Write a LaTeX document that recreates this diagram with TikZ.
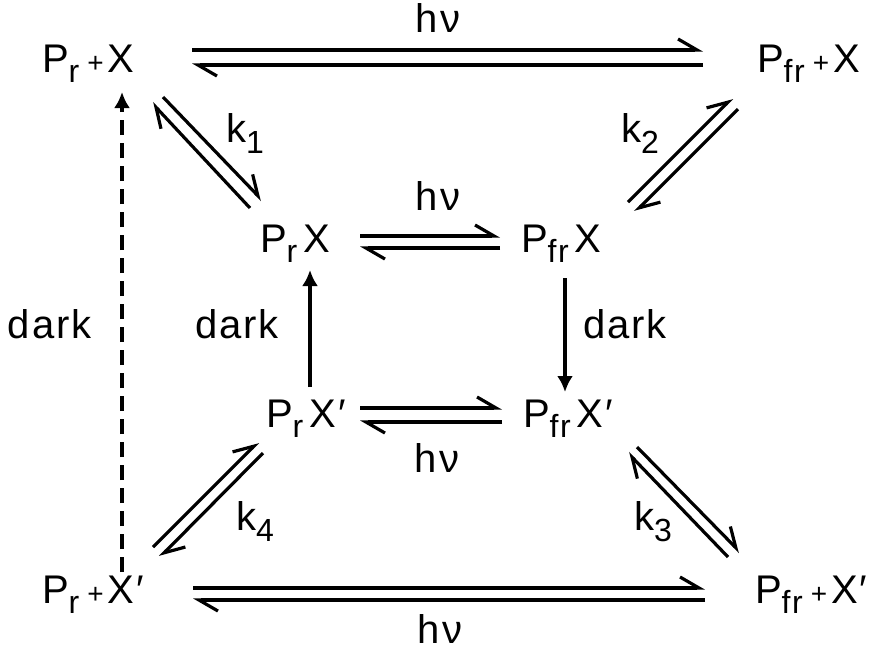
\documentclass[tikz,border=0pt]{standalone}
\usepackage{fontspec}
\setmainfont[LetterSpace=5]{Liberation Sans}
\usetikzlibrary{arrows.meta}
\newcommand{\sbr}[1]{\raisebox{-5pt}{\fontsize{16}{16}\selectfont #1}}
\newcommand{\sbk}[1]{\raisebox{-5.5pt}{\fontsize{16}{16}\selectfont #1}}
\newcommand{\pls}{{\fontsize{14}{14}\selectfont +}}
\newcommand{\prm}{′}
\begin{document}
\begin{tikzpicture}[x=0.5pt,y=-0.5pt,
  every node/.style={inner sep=0pt,outer sep=0pt,font=\fontsize{20}{22}\selectfont},
  lbl/.style={anchor=base west},
  ctr/.style={anchor=base},
  eq/.style={line width=1.6pt,-{Straight Barb[left,length=9.5pt,width=11pt]}},
  solidarr/.style={line width=1.6pt,-{Latex[length=8pt,width=8pt]}},
  darkdash/.style={line width=1.6pt,dash pattern=on 7.5pt off 4pt,-{Latex[length=8pt,width=8pt]}}]
\useasboundingbox (0,0) rectangle (884,650);
% species
\node[lbl] (A) at (42,72) {P\sbr{r}\hspace{4pt}\pls\hspace{2pt}X};
\node[lbl] (B) at (757,72) {P\sbr{fr}\hspace{4pt}\pls\hspace{2pt}X};
\node[lbl] (C) at (260,252) {P\sbr{r}\hspace{3pt}X};
\node[lbl] (D) at (521,252) {P\sbr{fr}\hspace{3pt}X};
\node[lbl] (E) at (266,427) {P\sbr{r}\hspace{3pt}X\prm};
\node[lbl] (F) at (523,427) {P\sbr{fr}\hspace{3pt}X\prm};
\node[lbl] (G) at (42,603) {P\sbr{r}\hspace{4pt}\pls\hspace{2pt}X\prm};
\node[lbl] (H) at (755,603) {P\sbr{fr}\hspace{4pt}\pls\hspace{2pt}X\prm};
% labels
\node[ctr] (hv1) at (438,32) {hν};
\node[ctr] (hv2) at (438,210) {hν};
\node[ctr] (hv3) at (437,472) {hν};
\node[ctr] (hv4) at (440,643) {hν};
\node[lbl] (k1) at (226,142) {k\sbk{1}};
\node[lbl] (k2) at (621,142) {k\sbk{2}};
\node[lbl] (k3) at (634,530) {k\sbk{3}};
\node[lbl] (k4) at (236,530) {k\sbk{4}};
\node[lbl] (d1) at (8,338) {dark};
\node[lbl] (d2) at (195,338) {dark};
\node[lbl] (d3) at (583,338) {dark};
% arrow end points
\coordinate (AB1) at (192,50);  \coordinate (AB2) at (703,50);
\coordinate (BA1) at (703,65);  \coordinate (BA2) at (192,65);
\coordinate (CD1) at (360,236); \coordinate (CD2) at (500,236);
\coordinate (DC1) at (500,248); \coordinate (DC2) at (360,248);
\coordinate (EF1) at (360,408); \coordinate (EF2) at (502,408);
\coordinate (FE1) at (502,422); \coordinate (FE2) at (360,422);
\coordinate (GH1) at (193,588); \coordinate (GH2) at (705,588);
\coordinate (HG1) at (705,600); \coordinate (HG2) at (193,600);
\coordinate (AC1) at (163,97);  \coordinate (AC2) at (262,200);
\coordinate (CA1) at (250,208); \coordinate (CA2) at (152,103);
\coordinate (DB1) at (628,202); \coordinate (DB2) at (732,98);
\coordinate (BD1) at (738,109); \coordinate (BD2) at (635,212);
\coordinate (FH1) at (637,447); \coordinate (FH2) at (740,552);
\coordinate (HF1) at (728,557); \coordinate (HF2) at (628,453);
\coordinate (GE1) at (153,547); \coordinate (GE2) at (258,442);
\coordinate (EG1) at (263,453); \coordinate (EG2) at (160,557);
\coordinate (EC1) at (310,387); \coordinate (EC2) at (310,270);
\coordinate (DF1) at (565,278); \coordinate (DF2) at (565,392);
\coordinate (GA1) at (122,572); \coordinate (GA2) at (122,92);
% equilibria
\draw[eq] (AB1) -- (AB2); \draw[eq] (BA1) -- (BA2);
\draw[eq] (CD1) -- (CD2); \draw[eq] (DC1) -- (DC2);
\draw[eq] (EF1) -- (EF2); \draw[eq] (FE1) -- (FE2);
\draw[eq] (GH1) -- (GH2); \draw[eq] (HG1) -- (HG2);
\draw[eq] (AC1) -- (AC2); \draw[eq] (CA1) -- (CA2);
\draw[eq] (DB1) -- (DB2); \draw[eq] (BD1) -- (BD2);
\draw[eq] (FH1) -- (FH2); \draw[eq] (HF1) -- (HF2);
\draw[eq] (GE1) -- (GE2); \draw[eq] (EG1) -- (EG2);
% dark reactions
\draw[solidarr] (EC1) -- (EC2);
\draw[solidarr] (DF1) -- (DF2);
\draw[darkdash] (GA1) -- (GA2);
\end{tikzpicture}
\end{document}
